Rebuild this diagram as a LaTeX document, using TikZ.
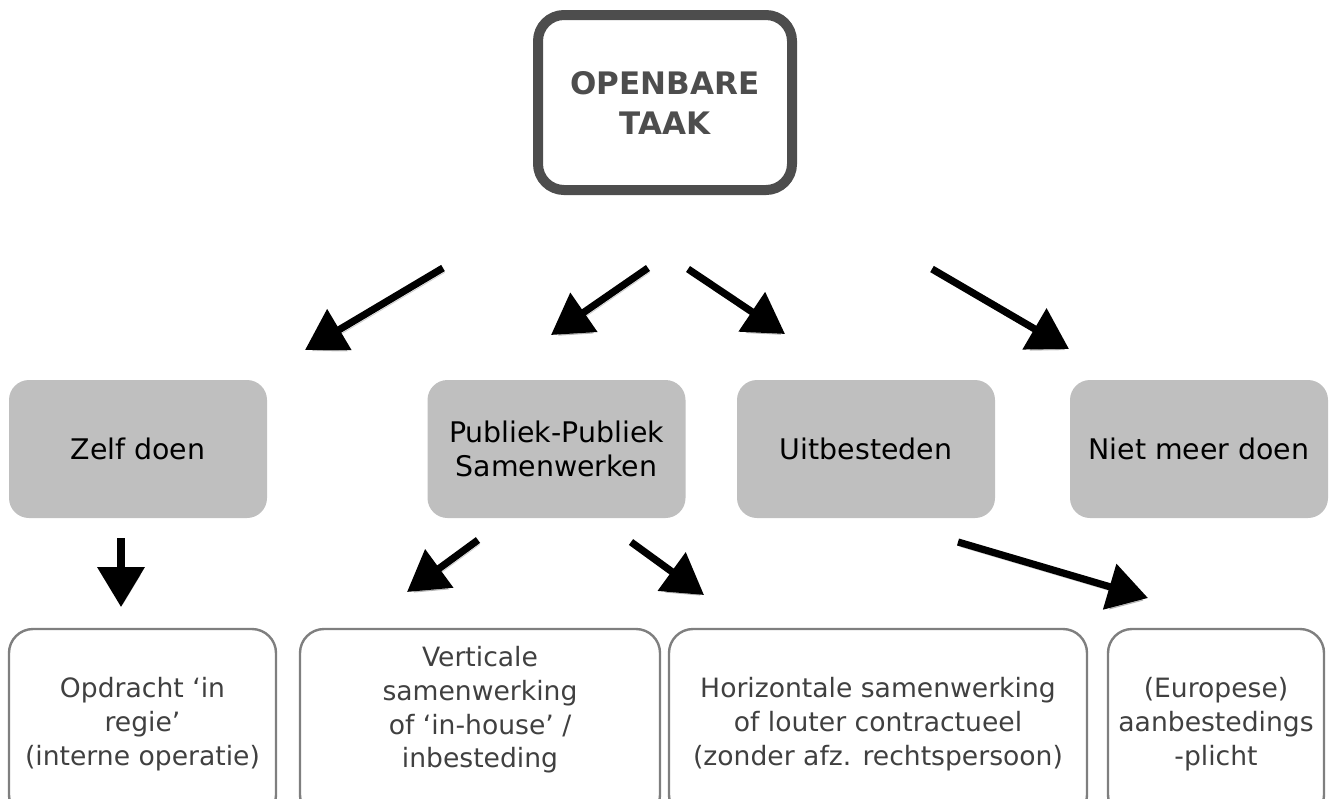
\documentclass[tikz,border=0pt]{standalone}
\usepackage{fontspec}
\setmainfont{DejaVu Sans}
\usetikzlibrary{arrows.meta}
\definecolor{donker}{HTML}{4D4D4D}
\definecolor{rand}{HTML}{7F7F7F}
\definecolor{vulling}{HTML}{BFBFBF}
\definecolor{tekst}{HTML}{404040}
\tikzstyle{taak}=[draw=donker, line width=5pt, rounded corners=13pt, minimum width=127pt, minimum height=87.5pt, text=donker, font=\bfseries\fontsize{15.5}{20}\selectfont, align=center]
\tikzstyle{keuze}=[fill=vulling, rounded corners=10pt, minimum width=129pt, minimum height=69pt, font=\fontsize{14.2}{17}\selectfont, align=center]
\tikzstyle{gevolg}=[draw=rand, line width=1.2pt, rounded corners=12pt, minimum height=95pt, text=tekst, font=\fontsize{13.3}{16.9}\selectfont, align=center]
\newcommand{\keuze}{\node[keuze]}
\newcommand{\gevolg}{\node[gevolg]}

\begin{document}
\begin{tikzpicture}[x=0.5pt, y=-0.5pt
    ,every edge/.style={
        draw, line width=3.6pt,
        -{Triangle[length=20pt,width=23pt]},
        preaction={draw=black, opacity=.2,
                   transform canvas={shift={(.8pt,-2.2pt)}}} }
]
\useasboundingbox (0,0) rectangle (1336,798);
\node[taak] (taak) at (665,102.5) {OPENBARE\\TAAK};
\keuze (zelf) at (138,449)   {Zelf doen};
\keuze (ppsw) at (556.5,449) {Publiek-Publiek\\Samenwerken};
\keuze (uitb) at (866,449)   {Uitbesteden};
\keuze (niet) at (1199,449)  {Niet meer doen};
\gevolg[minimum width=133.5pt] (regie) at (142.5,724) {Opdracht `in\\regie'\\(interne operatie)};
\gevolg[minimum width=180pt] (vert) at (480,724) {Verticale\\samenwerking\\of `in-house' /\\inbesteding\\\mbox{}};
\gevolg[minimum width=209pt] (hori) at (878,724) {Horizontale samenwerking\\of louter contractueel\\(zonder afz. rechtspersoon)};
\gevolg[minimum width=108pt] (aanb) at (1216,724) {(Europese)\\aanbestedings\\-plicht};
% losse pijlen tussen de lagen
\coordinate (p1) at (443,268);  \coordinate (q1) at (305,350);
\coordinate (p2) at (648,268);  \coordinate (q2) at (551,335);
\coordinate (p3) at (688,269);  \coordinate (q3) at (785,334);
\coordinate (p4) at (932,269);  \coordinate (q4) at (1069,349);
\coordinate (p5) at (121,538);  \coordinate (q5) at (121,607);
\coordinate (p6) at (478,540);  \coordinate (q6) at (407,592);
\coordinate (p7) at (631,542);  \coordinate (q7) at (704,595);
\coordinate (p8) at (958,542);  \coordinate (q8) at (1148,598);
\path
(p1) edge (q1)
(p2) edge (q2)
(p3) edge (q3)
(p4) edge (q4)
(p5) edge (q5)
(p6) edge (q6)
(p7) edge (q7)
(p8) edge (q8)
;
\end{tikzpicture}
\end{document}
